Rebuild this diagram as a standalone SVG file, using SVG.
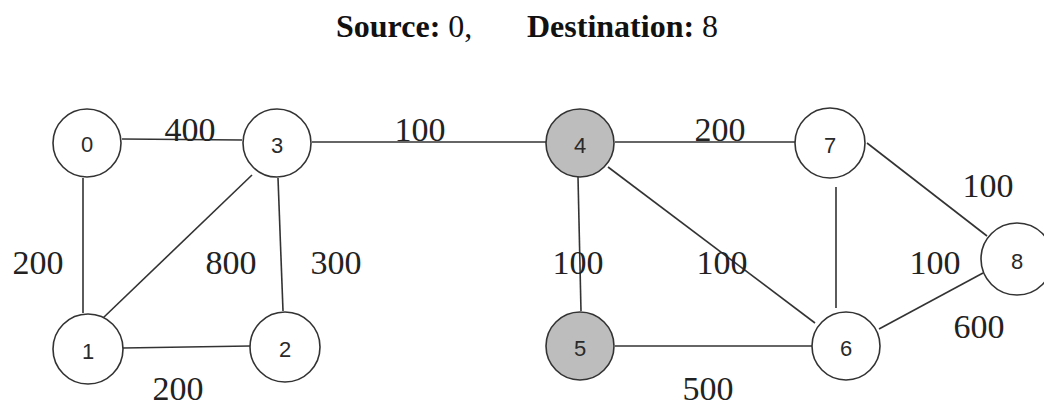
<svg xmlns="http://www.w3.org/2000/svg" width="1044" height="406" viewBox="0 0 1044 406">
<style>
.node circle{fill:#ffffff;stroke:#333333;stroke-width:1.6}
.node.hl circle{fill:#bdbdbd}
.node text{font-family:"Liberation Sans",Arial,sans-serif;font-size:22px;fill:#2a2a2a;text-anchor:middle;dominant-baseline:central}
.edges line{stroke:#333333;stroke-width:1.6}
.w{font-family:"Liberation Serif","Times New Roman",serif;font-size:34px;fill:#222;text-anchor:middle}
.title{font-family:"Liberation Serif","Times New Roman",serif;font-size:32px;fill:#111}
.title .b{font-weight:bold}
</style>
<rect width="1044" height="406" fill="#ffffff"/>
<text class="title" x="336" y="37"><tspan class="b">Source:</tspan> 0,</text>
<text class="title" x="527" y="37"><tspan class="b">Destination:</tspan> 8</text>
<g class="edges">
<line x1="122" y1="139" x2="242" y2="140"/>
<line x1="83" y1="178" x2="83" y2="313"/>
<line x1="103" y1="318" x2="252" y2="175"/>
<line x1="278" y1="178" x2="283" y2="311"/>
<line x1="123" y1="348" x2="250" y2="346"/>
<line x1="312" y1="142" x2="547" y2="142"/>
<line x1="615" y1="142" x2="795" y2="142"/>
<line x1="578" y1="177" x2="581" y2="311"/>
<line x1="608" y1="167" x2="815" y2="323"/>
<line x1="615" y1="346" x2="812" y2="346"/>
<line x1="836" y1="187" x2="836" y2="308"/>
<line x1="867" y1="143" x2="987" y2="236"/>
<line x1="879" y1="329" x2="983" y2="273"/>
</g>
<g id="w03"><text class="w" x="190" y="141">400</text></g>
<g id="w01"><text class="w" x="38" y="274">200</text></g>
<g id="w13"><text class="w" x="231" y="274">800</text></g>
<g id="w32"><text class="w" x="336" y="274">300</text></g>
<g id="w12"><text class="w" x="178" y="400">200</text></g>
<g id="w34"><text class="w" x="420" y="141">100</text></g>
<g id="w47"><text class="w" x="720" y="141">200</text></g>
<g id="w45"><text class="w" x="578" y="274">100</text></g>
<g id="w46"><text class="w" x="722" y="274">100</text></g>
<g id="w56"><text class="w" x="708" y="400">500</text></g>
<g id="w78"><text class="w" x="988" y="197">100</text></g>
<g id="w76"><text class="w" x="935" y="274">100</text></g>
<g id="w68"><text class="w" x="979" y="338">600</text></g>
<g id="n0" class="node"><circle cx="87" cy="143" r="34"/><text x="87" y="144">0</text></g>
<g id="n3" class="node"><circle cx="277" cy="143" r="34"/><text x="277" y="145">3</text></g>
<g id="n1" class="node"><circle cx="88" cy="349" r="35"/><text x="88" y="351">1</text></g>
<g id="n2" class="node"><circle cx="285" cy="347" r="35"/><text x="285" y="349">2</text></g>
<g id="n4" class="node hl"><circle cx="580" cy="143" r="34"/><text x="580" y="145">4</text></g>
<g id="n5" class="node hl"><circle cx="580" cy="346" r="34"/><text x="580" y="348">5</text></g>
<g id="n7" class="node"><circle cx="830" cy="143" r="35"/><text x="830" y="145">7</text></g>
<g id="n6" class="node"><circle cx="846" cy="346" r="34"/><text x="846" y="348">6</text></g>
<g id="n8" class="node"><circle cx="1017" cy="259" r="36"/><text x="1017" y="261">8</text></g>
</svg>
